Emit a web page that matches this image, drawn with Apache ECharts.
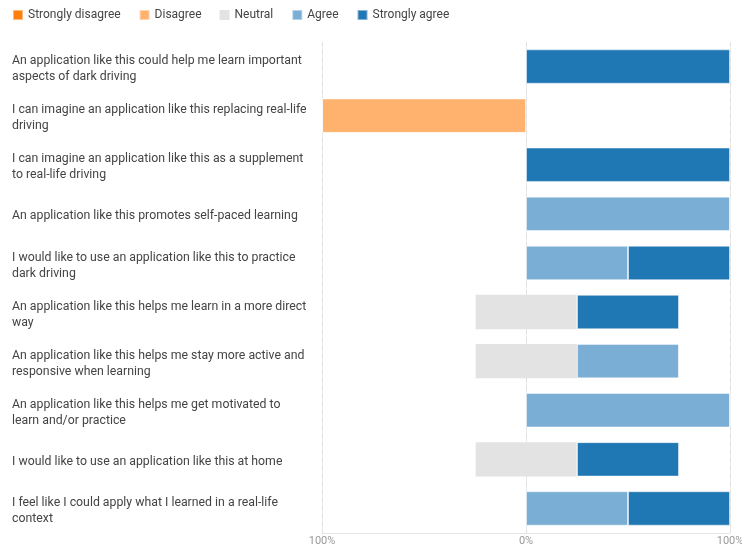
<!DOCTYPE html>
<html><head><meta charset="utf-8">
<script src="https://cdn.jsdelivr.net/npm/echarts@6/dist/echarts.min.js"></script>
<style>html,body{margin:0;padding:0;background:#fff}#c{width:742px;height:544px}</style>
</head><body><div id="c"></div>
<script>
const categories = [
  "An application like this could help me learn important\naspects of dark driving",
  "I can imagine an application like this replacing real-life\ndriving",
  "I can imagine an application like this as a supplement\nto real-life driving",
  "An application like this promotes self-paced learning",
  "I would like to use an application like this to practice\ndark driving",
  "An application like this helps me learn in a more direct\nway",
  "An application like this helps me stay more active and\nresponsive when learning",
  "An application like this helps me get motivated to\nlearn and/or practice",
  "I would like to use an application like this at home",
  "I feel like I could apply what I learned in a real-life\ncontext"
];
// percentages of responses
const stronglyDisagree = [0, 0, 0, 0, 0, 0, 0, 0, 0, 0];
const disagree         = [0, 100, 0, 0, 0, 0, 0, 0, 0, 0];
const neutral          = [0, 0, 0, 0, 0, 50, 50, 0, 50, 0];
const agree            = [0, 0, 0, 100, 50, 0, 50, 100, 0, 50];
const stronglyAgree    = [100, 0, 100, 0, 50, 50, 0, 0, 50, 50];
const legendNames = ["Strongly disagree", "Disagree", "Neutral", "Agree", "Strongly agree"];
const colors = ["#ff7f0e", "#ffb26e", "#e3e3e3", "#7aaed4", "#1f77b4"];

const font = "Roboto, 'Noto Sans', sans-serif";
const border = {borderColor: 'rgba(255,255,255,0.45)', borderWidth: 1};
const barBase = {type: 'bar', stack: 'total', barWidth: '70%', emphasis: {disabled: true}};
const series = [
  Object.assign({}, barBase, {name: 'Neutral', data: neutral.map(v => -v / 2), color: colors[2], z: 3}),
  Object.assign({}, barBase, {name: 'Disagree', data: disagree.map(v => -v), color: colors[1], itemStyle: border, z: 3}),
  Object.assign({}, barBase, {name: 'Strongly disagree', data: stronglyDisagree.map(v => -v), color: colors[0], itemStyle: border, z: 3}),
  Object.assign({}, barBase, {name: 'Neutral', data: neutral.map(v => v / 2), color: colors[2], z: 3}),
  Object.assign({}, barBase, {name: 'Agree', data: agree, color: colors[3], itemStyle: border, z: 3}),
  Object.assign({}, barBase, {name: 'Strongly agree', data: stronglyAgree, color: colors[4], itemStyle: border, z: 3})
];

const chart = echarts.init(document.getElementById('c'));
chart.setOption({
  animation: false,
  textStyle: {fontFamily: font},
  legend: {
    data: legendNames.map((n, i) => ({name: n, itemStyle: {color: colors[i]}})),
    left: 12, top: 9, padding: 0, icon: 'rect', itemWidth: 10, itemHeight: 10, itemGap: 18,
    textStyle: {fontSize: 12, color: '#444', fontFamily: font}
  },
  grid: {left: 322, right: 12, top: 42, bottom: 11, containLabel: false, outerBoundsMode: 'none'},
  xAxis: [{
    type: 'value', min: -100, max: 100, interval: 100,
    axisLine: {show: true, lineStyle: {color: '#e6e6e6'}},
    axisTick: {show: false},
    axisLabel: {formatter: v => Math.abs(v) + '%', color: '#999', fontSize: 11, margin: 3, fontFamily: font},
    splitLine: {show: true, interval: (i, v) => Number(v) !== 0, lineStyle: {color: '#ebebeb', type: 'solid'}}
  }, {
    type: 'value', min: -100, max: 100, interval: 100, position: 'bottom',
    axisLine: {show: false}, axisTick: {show: false}, axisLabel: {show: false},
    splitLine: {show: true, interval: (i, v) => Number(v) === 0, lineStyle: {color: '#e0e0e0', type: [4, 4]}}
  }],
  yAxis: {
    type: 'category', data: categories, inverse: true,
    axisLine: {show: false}, axisTick: {show: false},
    axisLabel: {align: 'left', margin: 310, color: '#444', fontSize: 12.3, lineHeight: 16, fontFamily: font,
      formatter: v => '{s| }\n' + v,
      rich: {s: {fontSize: 1, lineHeight: 5}}}
  },
  series: series
});
</script></body></html>
